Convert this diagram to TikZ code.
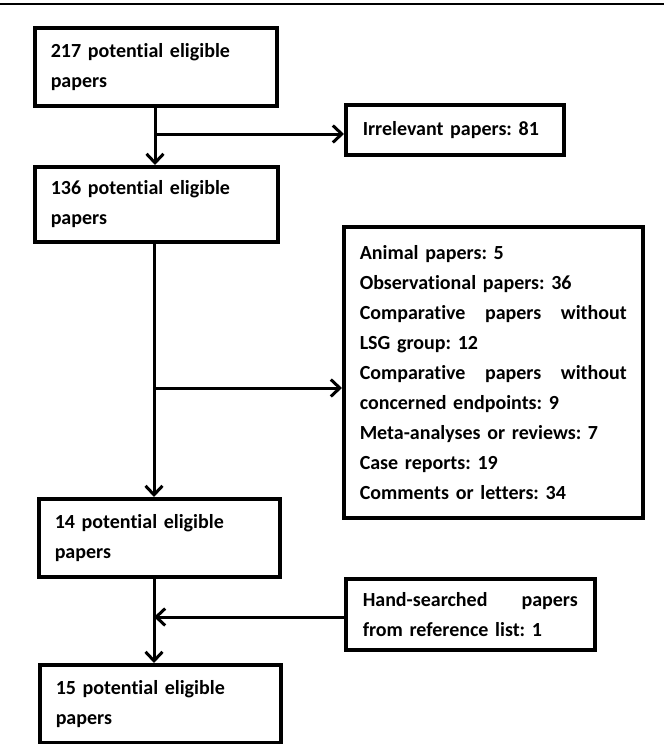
\documentclass[tikz,border=0pt]{standalone}
\usepackage{fontspec}
\setmainfont{Carlito}[Ligatures=NoCommon]
\usetikzlibrary{arrows.meta}
\begin{document}
\begin{tikzpicture}[x=1pt,y=-1pt,
  box/.style={draw, line width=3.5pt, anchor=north west, inner xsep=16pt, inner ysep=0pt,
    align=left, font=\bfseries\fontsize{20}{30}\selectfont\frenchspacing},
  arr/.style={line width=3pt, -{Straight Barb[length=9pt,width=17pt,line width=3pt]}}]
\useasboundingbox (0,0) rectangle (664,744);
\fill[white] (0,0) rectangle (664,744);
\draw[line width=2.5pt] (0,4) -- (664,4);

\node[box, minimum width=242pt, minimum height=78pt, text width=210pt] (b1) at (33,26)
  {217 potential eligible\\papers};
\node[box, minimum width=218pt, minimum height=50pt, text width=184pt, inner xsep=17pt] (irr) at (344,103)
  {Irrelevant papers: 81};
\node[box, minimum width=243pt, minimum height=75pt, text width=211pt] (b2) at (33,165)
  {136 potential eligible\\papers};
\node[box, minimum width=299pt, minimum height=291pt, text width=267pt, inner xsep=16pt] (big) at (342,225)
  {Animal papers: 5\\
   Observational papers: 36\\
   \makebox[267pt][s]{Comparative\hfill papers\hfill without}\\
   LSG group: 12\\
   \makebox[267pt][s]{Comparative\hfill papers\hfill without}\\
   concerned endpoints: 9\\
   Meta-analyses or reviews: 7\\
   Case reports: 19\\
   Comments or letters: 34};
\node[box, minimum width=241pt, minimum height=78pt, text width=209pt] (b3) at (37,497)
  {14 potential eligible\\papers};
\node[box, minimum width=249pt, minimum height=71pt, text width=215pt, inner xsep=17pt] (hand) at (344,577)
  {\makebox[215pt][s]{Hand-searched\hfill papers}\\from reference list: 1};
\node[box, minimum width=241pt, minimum height=78pt, text width=209pt] (b4) at (38,663)
  {15 potential eligible\\papers};

\coordinate (t1) at (155,104);
\coordinate (j1) at (155,134);
\coordinate (t2) at (154,240);
\coordinate (j2) at (154,388);
\coordinate (t3) at (154,575);
\coordinate (j3) at (154,617);

\draw[arr] (t1) -- (t1 |- b2.north);
\draw[arr] (j1) -- (j1 -| irr.west);
\draw[arr] (t2) -- (t2 |- b3.north);
\draw[arr] (j2) -- (j2 -| big.west);
\draw[arr] (t3) -- (t3 |- b4.north);
\draw[arr] (hand.west |- j3) -- (j3);
\end{tikzpicture}
\end{document}
